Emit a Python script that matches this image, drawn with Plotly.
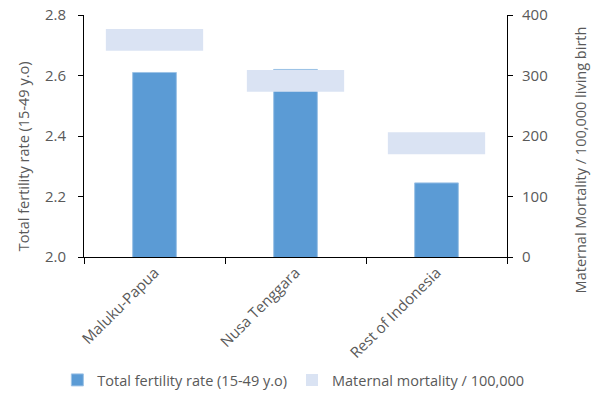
import plotly.graph_objects as go

regions = ["Maluku-Papua", "Nusa Tenggara", "Rest of Indonesia"]
fertility = [2.61, 2.62, 2.245]
maternal = [359, 291, 188]

left_title = "Total fertility rate (15-49 y.o)"
right_title = "Maternal Mortality / 100,000 living birth"

# the mortality marks are drawn as thin floating bars centred on the value
band = 36
mm_base = [v - band / 2 for v in maternal]
mm_height = [band] * len(maternal)

font = "Open Sans"
grey = "#595959"

fig = go.Figure()
fig.add_trace(go.Bar(
    x=regions, y=fertility, name="Total fertility rate (15-49 y.o)",
    marker=dict(color="#5B9BD5", line=dict(color="#9DC3E6", width=1)),
    width=0.31, base=0, yaxis="y",
))
fig.add_trace(go.Bar(
    x=regions, y=mm_height, base=mm_base, name="Maternal mortality / 100,000",
    marker=dict(color="#DAE3F3", line=dict(width=0)),
    width=0.69, yaxis="y2",
))

fig.update_layout(
    width=597, height=395,
    margin=dict(l=84, r=90, t=15, b=138, autoexpand=False),
    paper_bgcolor="white", plot_bgcolor="white",
    barmode="overlay",
    font=dict(family=font, size=14, color=grey),
    showlegend=True,
    legend=dict(orientation="h", x=-0.063, y=-0.442, xanchor="left", yanchor="top",
                font=dict(size=14.5, color=grey), traceorder="normal",
                itemwidth=30),
    xaxis=dict(showline=True, linecolor="black", linewidth=1, automargin=False,
               ticks="outside", tickson="boundaries", ticklen=6, tickcolor="black",
               tickangle=-45, tickfont=dict(size=15, color=grey)),
    yaxis=dict(range=[2.0, 2.8], dtick=0.2, tickformat=".1f", automargin=False,
               showline=True, linecolor="black", ticks="outside", ticklen=5,
               tickcolor="black", showgrid=False, zeroline=False,
               ticklabelstandoff=9, tickfont=dict(size=15, color=grey)),
    yaxis2=dict(range=[0, 400], dtick=100, overlaying="y", side="right", automargin=False,
                showline=True, linecolor="black", ticks="outside", ticklen=5,
                tickcolor="black", showgrid=False, zeroline=False,
                ticklabelstandoff=6, tickfont=dict(size=15, color=grey)),
    annotations=[
        dict(text=left_title, textangle=-90, xref="paper", yref="paper",
             x=-0.144, y=0.417, xanchor="center", yanchor="middle", showarrow=False,
             font=dict(size=14.5, color=grey)),
        dict(text=right_title, textangle=-90, xref="paper", yref="paper",
             x=1.173, y=0.40, xanchor="center", yanchor="middle", showarrow=False,
             font=dict(size=14.5, color=grey)),
    ],
)

# drop the default 8px body margin so the figure sits at the window corner
fig.write_html("out.html", config={"displayModeBar": False},
               post_script="document.body.style.margin='0';")
